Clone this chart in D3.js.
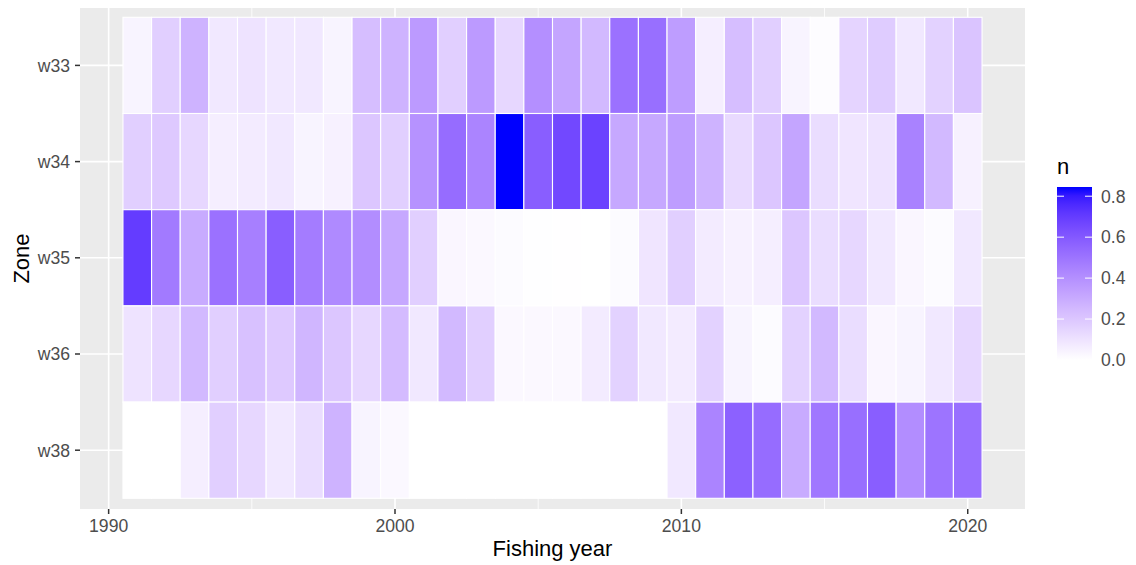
<!doctype html>
<html lang="en">
<head>
  <meta charset="utf-8">
  <title>Zone by fishing year</title>
  <script src="https://d3js.org/d3.v7.min.js"></script>
  <style>
    body { margin: 0; background: #fff; }
    svg text { font-family: "Liberation Sans", Arial, sans-serif; }
  </style>
</head>
<body>
<div class="canva"></div>
<script>
  // data
  const years = d3.range(1991, 2021);
  const zones = ["w33", "w34", "w35", "w36", "w38"];

  const n_w33 = [0.04, 0.17, 0.27, 0.08, 0.10, 0.08, 0.08, 0.04, 0.23, 0.27,
                 0.36, 0.17, 0.36, 0.14, 0.40, 0.32, 0.25, 0.51, 0.52, 0.35,
                 0.06, 0.23, 0.17, 0.04, 0.01, 0.15, 0.18, 0.08, 0.16, 0.21];
  const n_w34 = [0.17, 0.19, 0.14, 0.06, 0.07, 0.08, 0.04, 0.05, 0.20, 0.17,
                 0.39, 0.53, 0.44, 0.845, 0.58, 0.66, 0.68, 0.31, 0.31, 0.35,
                 0.27, 0.13, 0.20, 0.32, 0.12, 0.09, 0.10, 0.45, 0.25, 0.05];
  const n_w35 = [0.70, 0.48, 0.30, 0.51, 0.46, 0.58, 0.47, 0.42, 0.41, 0.31,
                 0.17, 0.03, 0.025, 0.015, 0.004, 0.002, 0, 0.015, 0.09, 0.17,
                 0.07, 0.05, 0.06, 0.20, 0.12, 0.14, 0.08, 0.03, 0.015, 0.08];
  const n_w36 = [0.10, 0.14, 0.25, 0.17, 0.22, 0.19, 0.26, 0.20, 0.14, 0.24,
                 0.08, 0.25, 0.17, 0.025, 0.025, 0.025, 0.07, 0.16, 0.08, 0.07,
                 0.16, 0.04, 0.015, 0.16, 0.25, 0.12, 0.03, 0.04, 0.08, 0.14];
  const n_w38 = [0, 0, 0.06, 0.17, 0.14, 0.08, 0.12, 0.27, 0.04, 0.025,
                 0, 0, 0, 0, 0, 0, 0, 0, 0, 0.08,
                 0.44, 0.57, 0.53, 0.30, 0.49, 0.52, 0.58, 0.41, 0.50, 0.52];

  const xTicks = [1990, 2000, 2010, 2020];
  const xMinor = [1995, 2005, 2015];
  const legendTicks = [0, 0.2, 0.4, 0.6, 0.8];

  const series = { w33: n_w33, w34: n_w34, w35: n_w35, w36: n_w36, w38: n_w38 };
  let cells = [];
  zones.forEach(z => {
    series[z].forEach((v, i) => cells.push({ zone: z, year: years[i], n: v }));
  });

  const W = 1136, H = 565;
  const panel = { left: 80, right: 1025, top: 8, bottom: 509 };

  const svg = d3.select(".canva").append("svg")
    .attr("width", W).attr("height", H);

  const x = d3.scaleLinear().domain([1989, 2022]).range([panel.left, panel.right]);
  const y = d3.scaleBand().domain(zones).range([17.3, 498.3]);
  const nMax = d3.max(cells, d => d.n);
  const color = d3.scaleLinear().domain([0, nMax]).range(["#ffffff", "#0000ff"])
    .interpolate(d3.interpolateLab);

  // panel background + grid
  svg.append("rect")
    .attr("x", panel.left).attr("y", panel.top)
    .attr("width", panel.right - panel.left).attr("height", panel.bottom - panel.top)
    .attr("fill", "#EBEBEB");

  svg.selectAll(".minor").data(xMinor).enter().append("line")
    .attr("x1", d => x(d)).attr("x2", d => x(d))
    .attr("y1", panel.top).attr("y2", panel.bottom)
    .attr("stroke", "#fff").attr("stroke-width", 0.8);

  svg.selectAll(".majorx").data(xTicks).enter().append("line")
    .attr("x1", d => x(d)).attr("x2", d => x(d))
    .attr("y1", panel.top).attr("y2", panel.bottom)
    .attr("stroke", "#fff").attr("stroke-width", 1.6);

  svg.selectAll(".majory").data(zones).enter().append("line")
    .attr("x1", panel.left).attr("x2", panel.right)
    .attr("y1", d => y(d) + y.bandwidth() / 2).attr("y2", d => y(d) + y.bandwidth() / 2)
    .attr("stroke", "#fff").attr("stroke-width", 1.6);

  // tiles
  svg.selectAll(".tile").data(cells).enter().append("rect")
    .attr("x", d => x(d.year - 0.5))
    .attr("y", d => y(d.zone))
    .attr("width", x(1) - x(0))
    .attr("height", y.bandwidth())
    .attr("fill", d => color(d.n))
    .attr("stroke", "#fff")
    .attr("stroke-width", 1.1);

  // axes
  const tickCol = "#333333", textCol = "#4D4D4D";
  svg.selectAll(".xt").data(xTicks).enter().append("line")
    .attr("x1", d => x(d)).attr("x2", d => x(d))
    .attr("y1", panel.bottom).attr("y2", panel.bottom + 5)
    .attr("stroke", tickCol).attr("stroke-width", 1.5);
  svg.selectAll(".xl").data(xTicks).enter().append("text")
    .attr("x", d => x(d)).attr("y", 532)
    .attr("text-anchor", "middle").attr("font-size", 17.6).attr("fill", textCol)
    .text(d => d);

  svg.selectAll(".yt").data(zones).enter().append("line")
    .attr("x1", panel.left - 5).attr("x2", panel.left)
    .attr("y1", d => y(d) + y.bandwidth() / 2).attr("y2", d => y(d) + y.bandwidth() / 2)
    .attr("stroke", tickCol).attr("stroke-width", 1.5);
  svg.selectAll(".yl").data(zones).enter().append("text")
    .attr("x", 70).attr("y", d => y(d) + y.bandwidth() / 2 + 6.3)
    .attr("text-anchor", "end").attr("font-size", 17.6).attr("fill", textCol)
    .text(d => d);

  svg.append("text")
    .attr("x", (panel.left + panel.right) / 2).attr("y", 556)
    .attr("text-anchor", "middle").attr("font-size", 22).attr("fill", "#000")
    .text("Fishing year");

  svg.append("text")
    .attr("transform", "translate(29," + ((panel.top + panel.bottom) / 2) + ") rotate(-90)")
    .attr("text-anchor", "middle").attr("font-size", 22).attr("fill", "#000")
    .text("Zone");

  // legend
  const lg = { x: 1057, w: 35, top: 187, bottom: 360 };
  const ly = d3.scaleLinear().domain([0, nMax]).range([lg.bottom, lg.top]);

  const defs = svg.append("defs");
  const grad = defs.append("linearGradient").attr("id", "lgrad")
    .attr("x1", 0).attr("y1", 1).attr("x2", 0).attr("y2", 0);
  d3.range(0, 1.0001, 0.05).forEach(t => {
    grad.append("stop").attr("offset", t).attr("stop-color", color(t * nMax));
  });

  svg.append("text").attr("x", lg.x).attr("y", 174)
    .attr("font-size", 22).attr("fill", "#000").text("n");

  svg.append("rect")
    .attr("x", lg.x).attr("y", lg.top)
    .attr("width", lg.w).attr("height", lg.bottom - lg.top)
    .attr("fill", "url(#lgrad)");

  legendTicks.forEach(v => {
    [[lg.x, lg.x + 7], [lg.x + lg.w - 7, lg.x + lg.w]].forEach(s => {
      svg.append("line")
        .attr("x1", s[0]).attr("x2", s[1])
        .attr("y1", ly(v)).attr("y2", ly(v))
        .attr("stroke", "#fff").attr("stroke-width", 1);
    });
  });

  svg.selectAll(".ll").data(legendTicks).enter().append("text")
    .attr("x", 1101).attr("y", d => ly(d) + 6.3)
    .attr("font-size", 17.6).attr("fill", textCol)
    .text(d => d.toFixed(1));
</script>
</body>
</html>
